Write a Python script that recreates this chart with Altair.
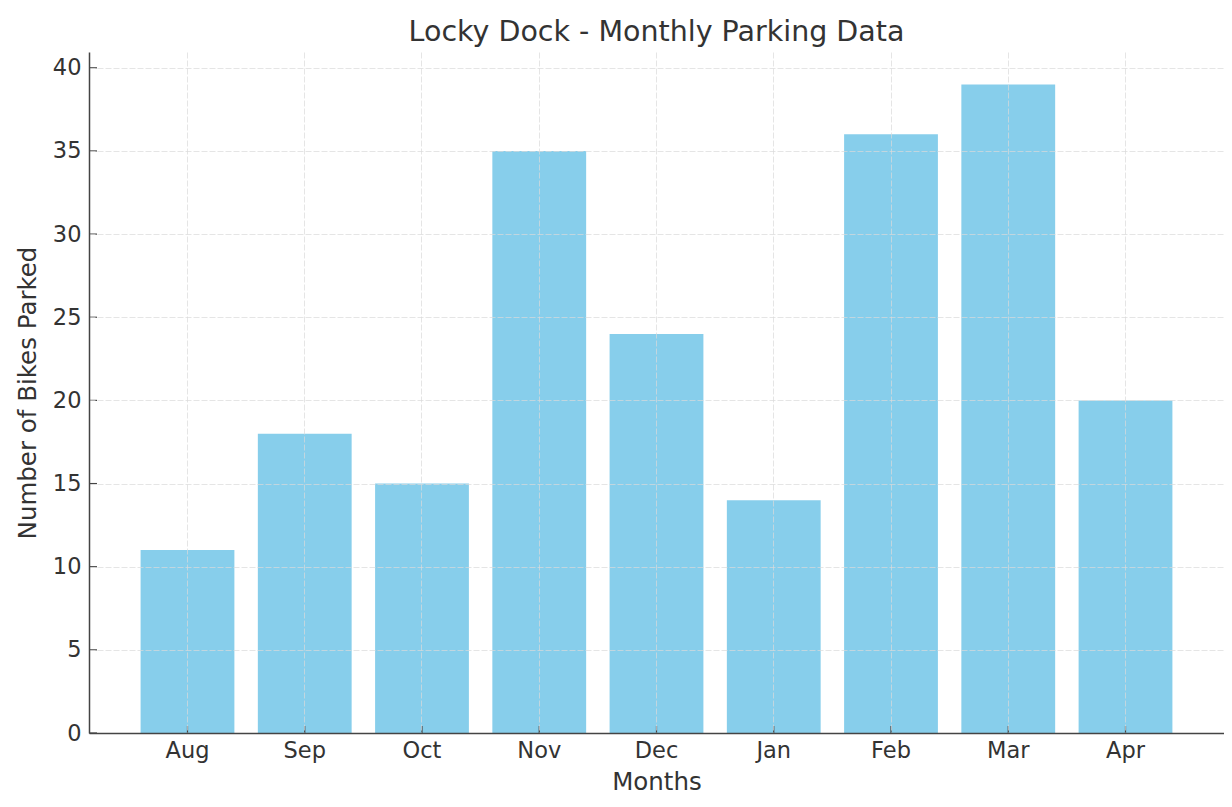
import altair as alt
import pandas as pd

months = ["Aug", "Sep", "Oct", "Nov", "Dec", "Jan", "Feb", "Mar", "Apr"]
bikes = [11, 18, 15, 35, 24, 14, 36, 39, 20]
y_tick_values = [0, 5, 10, 15, 20, 25, 30, 35, 40]

df = pd.DataFrame({"month": months, "bikes": bikes})
ticks_df = pd.DataFrame({"bikes": y_tick_values})

W, H = 1135, 681
FONT = "DejaVu Sans"
TXT = "#333333"
GRID = "#dadada"
SPINE = "#444444"

x_enc = alt.X(
    "month:N",
    sort=months,
    scale=alt.Scale(paddingInner=0.2, paddingOuter=0.44),
    axis=alt.Axis(
        title="Months",
        labelAngle=0,
        grid=True,
        gridColor=GRID,
        gridOpacity=0.7,
        gridDash=[6, 2],
        ticks=False,
        labelPadding=6,
        titlePadding=9,
        zindex=1,
    ),
)
y_enc = alt.Y(
    "bikes:Q",
    scale=alt.Scale(domain=[0, 40.95], nice=False, zero=True),
    axis=alt.Axis(
        title="Number of Bikes Parked",
        values=y_tick_values,
        grid=True,
        gridColor=GRID,
        gridOpacity=0.7,
        gridDash=[6, 2],
        ticks=False,
        labelPadding=8,
        titlePadding=12,
        zindex=1,
    ),
)

bars = alt.Chart(df).mark_bar(color="#87CEEB").encode(x=x_enc, y=y_enc)

x_ticks = alt.Chart(df).mark_rule(color=SPINE, strokeWidth=1.2).encode(
    x=alt.X("month:N", sort=months),
    y=alt.value(H),
    y2=alt.value(H - 7),
)

y_ticks = alt.Chart(ticks_df).mark_rule(color=SPINE, strokeWidth=1.2).encode(
    y=alt.Y("bikes:Q"),
    x=alt.value(0),
    x2=alt.value(8),
)

chart = (
    alt.layer(bars, x_ticks, y_ticks)
    .properties(
        width=W,
        height=H,
        title=alt.TitleParams(
            "Locky Dock - Monthly Parking Data",
            fontSize=28.5,
            font=FONT,
            fontWeight="normal",
            color=TXT,
            offset=6,
            anchor="middle",
        ),
        autosize=alt.AutoSizeParams(type="none"),
        padding={"left": 81, "top": 44, "right": 0, "bottom": 70},
        background="white",
    )
    .configure_view(stroke=None)
    .configure_axis(
        labelFont=FONT,
        titleFont=FONT,
        labelFontSize=22.5,
        titleFontSize=24.5,
        labelColor=TXT,
        titleColor=TXT,
        titleFontWeight="normal",
        domainColor=SPINE,
        domainWidth=1.5,
    )
)

chart.save("out.html", embed_options={"renderer": "svg", "actions": False})
